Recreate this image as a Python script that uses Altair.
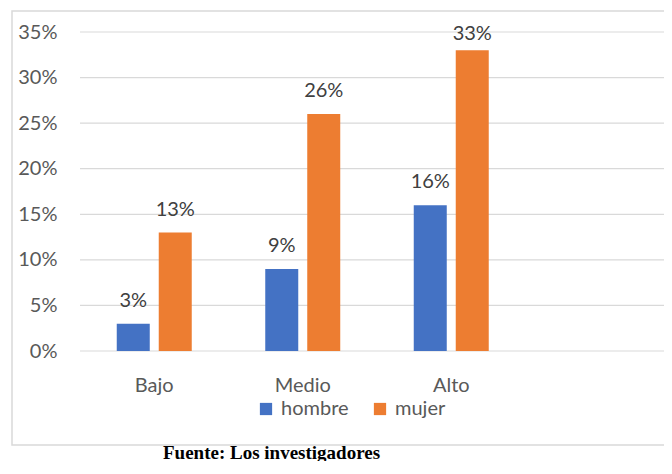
import altair as alt
import pandas as pd

categories = ["Bajo", "Medio", "Alto"]
x_domain = ["Bajo", "Medio", "Alto", " "]
series = ["hombre", "mujer"]
hombre = [0.03, 0.09, 0.16]
mujer = [0.13, 0.26, 0.33]
colors = ["#4472C4", "#ED7D31"]
y_ticks = [0, 0.05, 0.10, 0.15, 0.20, 0.25, 0.30, 0.35]
caption = "Fuente: Los investigadores"

rows = []
for i, c in enumerate(categories):
    rows.append({"nivel": c, "sexo": "hombre", "valor": hombre[i]})
    rows.append({"nivel": c, "sexo": "mujer", "valor": mujer[i]})
df = pd.DataFrame(rows)

W = 584
H = 319
FONT = "Lato"
FS = 20

x_scale = alt.Scale(domain=x_domain, range=[0, 594], paddingInner=0.495, paddingOuter=0.2475)
off_scale = alt.Scale(domain=series, paddingInner=0.214, paddingOuter=0)
y_scale = alt.Scale(domain=[0, 0.35], nice=False)

x_axis = alt.Axis(title=None, labelAngle=0, ticks=False, domain=False,
                  labelPadding=24, labelFontSize=FS, labelFont=FONT,
                  labelColor="#595959", grid=False)
y_axis = alt.Axis(title=None, format=".0%", values=y_ticks, ticks=False,
                  domain=False, labelPadding=23, labelFontSize=FS,
                  labelFont=FONT, labelColor="#595959", grid=False)

base = alt.Chart(df)

grid = alt.Chart(pd.DataFrame({"t": y_ticks})).mark_rule(
    color="#D9D9D9", strokeWidth=1.2
).encode(y=alt.Y("t:Q", scale=y_scale, axis=y_axis), x=alt.value(0), x2=alt.value(640))

bars = base.mark_bar().encode(
    x=alt.X("nivel:N", sort=x_domain, scale=x_scale, axis=x_axis),
    xOffset=alt.XOffset("sexo:N", sort=series, scale=off_scale),
    y=alt.Y("valor:Q", scale=y_scale, axis=y_axis),
    color=alt.Color("sexo:N", sort=series,
                    scale=alt.Scale(domain=series, range=colors),
                    legend=alt.Legend(title=None, orient="none", direction="horizontal",
                                      legendX=176, legendY=367, symbolType="square",
                                      symbolSize=150, symbolStrokeWidth=0,
                                      labelFontSize=FS, labelFont=FONT,
                                      labelColor="#595959", labelOffset=5,
                                      columnPadding=21)),
)

labels = base.transform_calculate(
    label_y="min(datum.valor, 0.3226)"
).mark_text(baseline="alphabetic", dy=-17, fontSize=FS, font=FONT,
            color="#404040").encode(
    x=alt.X("nivel:N", sort=x_domain, scale=x_scale, axis=x_axis),
    xOffset=alt.XOffset("sexo:N", sort=series, scale=off_scale),
    y=alt.Y("label_y:Q", scale=y_scale, axis=y_axis),
    text=alt.Text("valor:Q", format=".0%"),
)

border = alt.Chart(pd.DataFrame({"k": [0]})).mark_rect(
    fill=None, stroke="#D9D9D9", strokeWidth=1.5
).encode(x=alt.value(-68), x2=alt.value(660), y=alt.value(-21), y2=alt.value(413))

cap = alt.Chart(pd.DataFrame({"t": [caption]})).mark_text(
    font="Liberation Serif", fontWeight="bold", fontSize=19, align="left",
    baseline="alphabetic", color="#000000"
).encode(x=alt.value(83), y=alt.value(427), text="t:N")

chart = alt.layer(border, grid, bars, labels, cap).properties(
    width=W, height=H,
    background="white",
    autosize=alt.AutoSizeParams(type="none"),
    padding={"left": 72, "top": 24, "right": 0, "bottom": 110},
).configure_view(strokeWidth=0, stroke="transparent")

chart.save("out.html", embed_options={"renderer": "svg", "actions": False})
